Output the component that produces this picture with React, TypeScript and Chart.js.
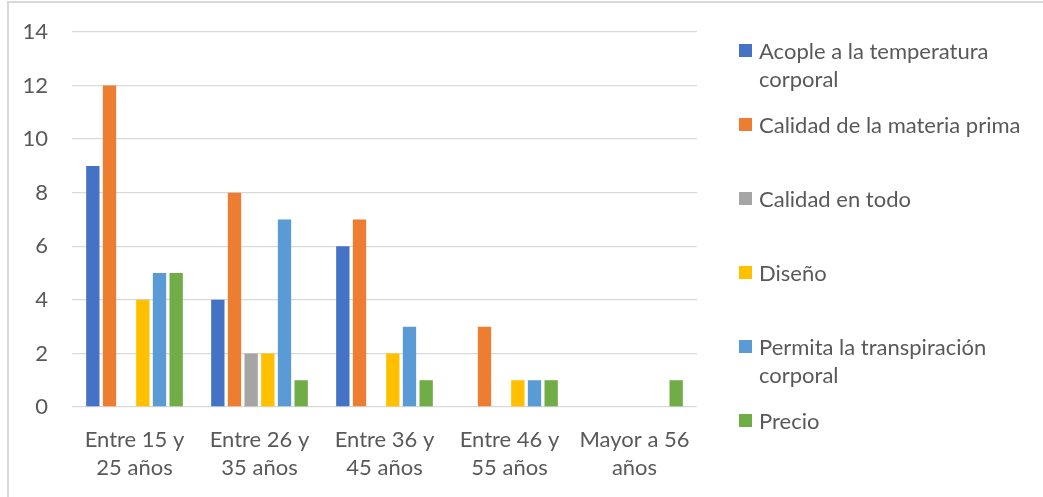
import React, { useEffect, useRef } from "react";
import { Chart, registerables } from "chart.js";

Chart.register(...registerables);

const categories: string[][] = [
  ["Entre 15 y", "25 años"],
  ["Entre 26 y", "35 años"],
  ["Entre 36 y", "45 años"],
  ["Entre 46 y", "55 años"],
  ["Mayor a 56", "años"],
];
const seriesNames = [
  "Acople a la temperatura corporal",
  "Calidad de la materia prima",
  "Calidad en todo",
  "Diseño",
  "Permita la transpiración corporal",
  "Precio",
];
const acople = [9, 4, 6, 0, 0];
const materiaPrima = [12, 8, 7, 3, 0];
const calidadTodo = [0, 2, 0, 0, 0];
const diseno = [4, 2, 2, 1, 0];
const transpiracion = [5, 7, 3, 1, 0];
const precio = [5, 1, 1, 1, 1];
const seriesValues = [acople, materiaPrima, calidadTodo, diseno, transpiracion, precio];
const seriesColors = ["#4472C4", "#ED7D31", "#A5A5A5", "#FFC000", "#5B9BD5", "#70AD47"];
const yMin = 0;
const yMax = 14;
const yStep = 2;

const FONT = "Lato, 'Open Sans', sans-serif";
const TEXT = "#595959";
const PLOT_TOP = 32;
const PLOT_LEFT = 72;
const PLOT_RIGHT = 697;
const PLOT_BOTTOM = 407;

export default function App() {
  const ref = useRef<HTMLCanvasElement | null>(null);

  useEffect(() => {
    if (!ref.current) return;
    const chart: any = new Chart(ref.current, {
      type: "bar",
      data: {
        labels: categories,
        datasets: seriesNames.map((name, i) => ({
          label: name,
          data: seriesValues[i],
          backgroundColor: seriesColors[i],
          borderWidth: 0,
          categoryPercentage: 0.8,
          barPercentage: 0.8,
        })),
      },
      options: {
        animation: false,
        responsive: false,
        maintainAspectRatio: false,
        layout: { padding: { top: PLOT_TOP, right: 1043 - PLOT_RIGHT, left: 0, bottom: 0 } },
        plugins: { legend: { display: false }, tooltip: { enabled: false } },
        scales: {
          x: {
            grid: { display: false, drawTicks: false },
            border: { display: false },
            ticks: {
              color: TEXT,
              font: { family: FONT, size: 22, lineHeight: "28px" },
              padding: 19,
              maxRotation: 0,
              autoSkip: false,
            },
            afterFit: (s: any) => {
              s.height = 497 - PLOT_BOTTOM;
            },
          },
          y: {
            min: yMin,
            max: yMax,
            ticks: {
              stepSize: yStep,
              color: TEXT,
              font: { family: FONT, size: 22, lineHeight: 0.5 },
              padding: 24,
            },
            grid: { color: "#d9d9d9", lineWidth: 1.3, drawTicks: false },
            border: { display: false },
            afterFit: (s: any) => {
              s.width = PLOT_LEFT;
            },
          },
        },
      },
    });
    return () => chart.destroy();
  }, []);

  return (
    <div
      style={{
        position: "fixed",
        left: 0,
        top: 0,
        width: 1043,
        height: 497,
        overflow: "hidden",
        background: "#fff",
        fontFamily: FONT,
      }}
    >
      <div
        style={{
          position: "absolute",
          left: 7,
          top: 1,
          width: 1100,
          height: 600,
          borderLeft: "2px solid #d9d9d9",
          borderTop: "2px solid #d9d9d9",
        }}
      />
      <canvas ref={ref} width={1043} height={497} style={{ position: "absolute", left: 0, top: 0 }} />
      <div style={{ position: "absolute", left: 739, top: 36.5 }}>
        {seriesNames.map((name, i) => (
          <div key={name} style={{ height: 74.1, display: "flex", alignItems: "flex-start" }}>
            <div
              style={{
                width: 13,
                height: 13,
                marginTop: 7.5,
                background: seriesColors[i],
                flex: "0 0 auto",
              }}
            />
            <div
              style={{
                marginLeft: 7,
                width: 280,
                fontSize: 22,
                lineHeight: "28px",
                color: TEXT,
              }}
            >
              {name}
            </div>
          </div>
        ))}
      </div>
    </div>
  );
}
